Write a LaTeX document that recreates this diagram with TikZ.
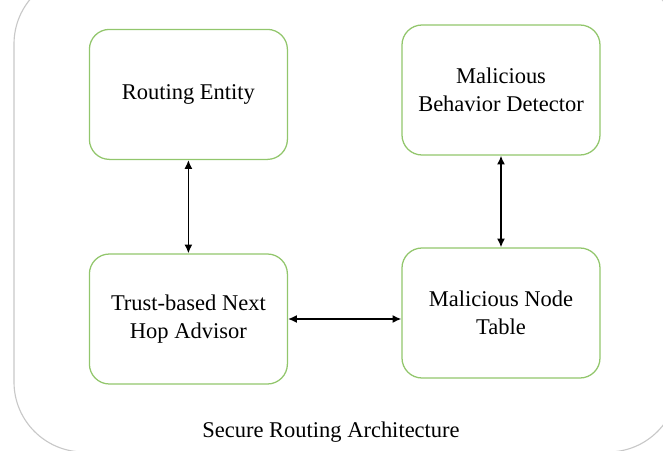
\documentclass[tikz,border=0pt]{standalone}
\usepackage{fontspec}
\setmainfont{Liberation Serif}
\usetikzlibrary{arrows.meta}
\definecolor{boxgreen}{RGB}{146,198,108}
\definecolor{framegray}{RGB}{200,200,200}
\tikzset{
	unitbox/.style={draw=boxgreen,line width=0.9pt,rounded corners=0.5cm,minimum width=4.95cm,minimum height=3.25cm,align=center,font=\fontsize{16}{19.8}\selectfont},
	link/.style={{Latex[length=2.2mm,width=2mm]}-{Latex[length=2.2mm,width=2mm]},line width=1.1pt}
}
\begin{document}
\begin{tikzpicture}
		\clip (0,0) rectangle (16.575,11.25);
		%outer frame
			\draw [framegray, line width=0.8pt, rounded corners=1.75cm] (0.35,-0.05) rectangle (16.95,11.9);
		%units
			\node[unitbox] (routing) at (4.71,8.89) {Routing Entity};
			\node[unitbox] (detector) at (12.525,9.0) {Malicious\\Behavior Detector};
			\node[unitbox] (advisor) at (4.71,3.275) {Trust-based Next\\Hop Advisor};
			\node[unitbox] (table) at (12.525,3.425) {Malicious Node\\Table};
		%links
			\draw [link] (routing.south) -- (advisor.north);
			\draw [link] (detector.south) -- (table.north);
			\draw [link] (advisor.east) -- (advisor.east -| table.west);
		%caption
			\node[font=\fontsize{16}{19.8}\selectfont] (caption) at (8.275,0.45) {Secure Routing Architecture};
	\end{tikzpicture}
\end{document}
